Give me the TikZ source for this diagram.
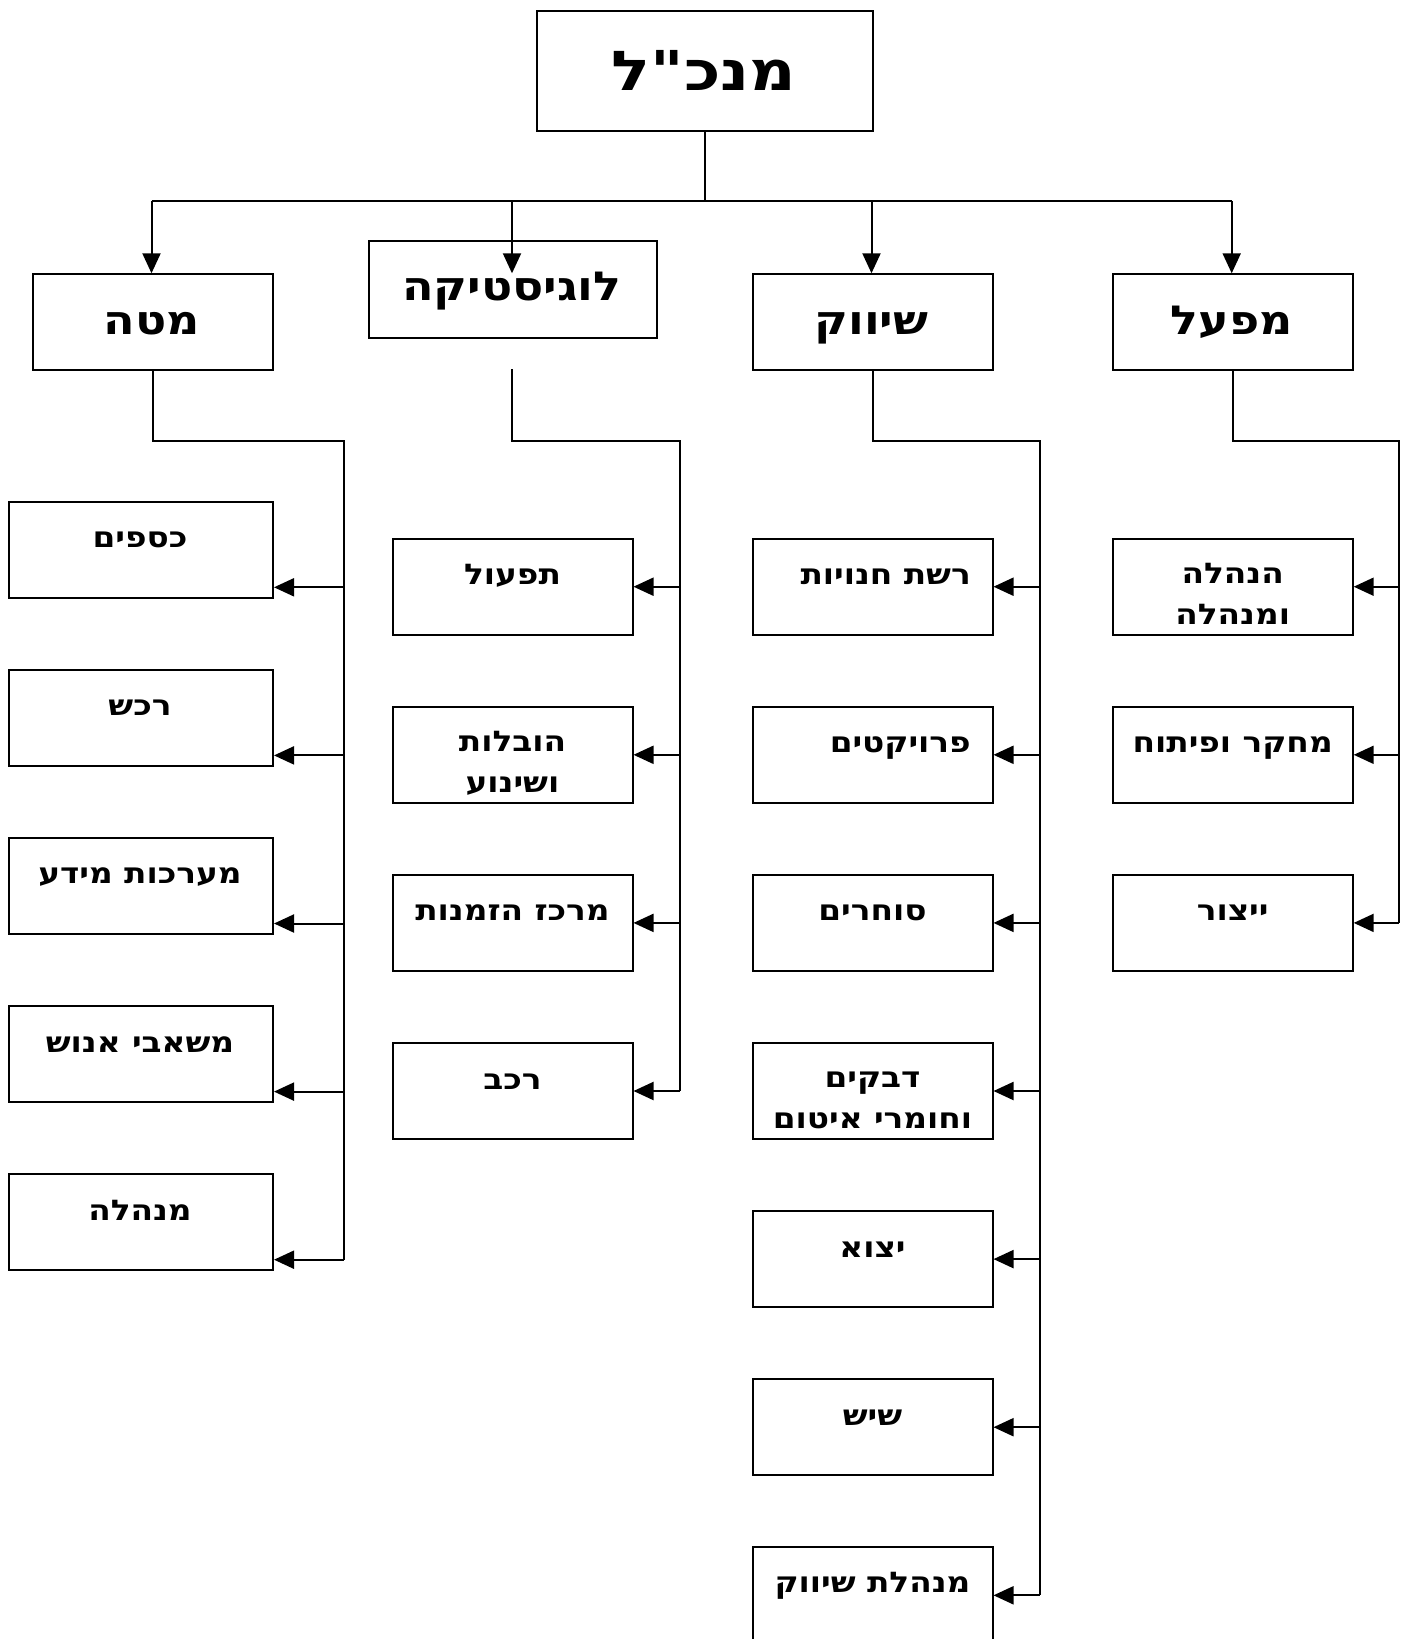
\documentclass[tikz,border=0pt]{standalone}
\usepackage{fontspec}
\usetikzlibrary{arrows.meta,calc}
\TeXXeTstate=1
\newfontfamily\heb[Script=Hebrew,FakeStretch=1.15]{DejaVu Sans}
\newfontfamily\hebtop[Script=Hebrew,FakeStretch=1.17]{DejaVu Sans}
\newcommand\heR[1]{\beginR #1\endR}
\begin{document}
\begin{tikzpicture}[x=1pt,y=-1pt,
  ln/.style={line width=2pt},
  arr/.style={line width=2pt,-{Triangle[length=20pt,width=18pt]}},
  box/.style={draw,line width=2pt,fill=white,anchor=north west,inner sep=0pt,
    minimum width=240pt,minimum height=96pt},
  wbox/.style={box,minimum width=264pt},
  sub/.style={anchor=base,inner sep=0pt,align=center,
    font=\heb\bfseries\fontsize{28.5}{41}\selectfont},
  head/.style={anchor=base,inner sep=0pt,font=\heb\bfseries\fontsize{40}{48}\selectfont},
  topt/.style={anchor=base,inner sep=0pt,font=\hebtop\bfseries\fontsize{55}{64}\selectfont}]
\useasboundingbox (0,0) rectangle (1412,1639);

% top
\node[box,minimum width=336pt,minimum height=120pt] (ceo) at (536,9.5) {};
\node[topt] (ceot) at (704,90) {\heR{מנכ"ל}};

\coordinate (bus) at (704,201);
\coordinate (mtip) at (151.5,273.3);
\coordinate (ltip) at (512,273.3);
\coordinate (stip) at (871.5,273.3);
\coordinate (ftip) at (1231.7,273.3);

% department boxes
\node[box] (mata) at (31.5,273.3) {};
\node[box,minimum width=288pt,minimum height=96.5pt] (log) at (368,240) {};
\node[box] (shiv) at (751.5,273.3) {};
\node[box] (mifal) at (1111.7,273.3) {};

\node[head] (matat) at (151.5,334) {\heR{מטה}};
\node[head] (logt) at (512,300.5) {\heR{לוגיסטיקה}};
\node[head] (shivt) at (871.5,334) {\heR{שיווק}};
\node[head] (mifalt) at (1231.7,334) {\heR{מפעל}};

\draw[ln] (ceo.south) -- (ceo.south |- bus);
\draw[ln] (mtip |- bus) -- (ftip |- bus);
\draw[arr] (mtip |- bus) -- (mtip);
\draw[arr] (ltip |- bus) -- (ltip);
\draw[arr] (stip |- bus) -- (stip);
\draw[arr] (ftip |- bus) -- (ftip);

% trunks
\coordinate (mtr) at (343.7,441);
\coordinate (ltr) at (679.5,441);
\coordinate (str) at (1039.6,441);
\coordinate (ftr) at (1398.8,441);
\coordinate (lstart) at (512,369.3);

% Mata children
\foreach \i/\n/\t in {0/m1/{\heR{כספים}},1/m2/{\heR{רכש}},2/m3/{\heR{מערכות מידע}},3/m4/{\heR{משאבי אנוש}},4/m5/{\heR{מנהלה}}}{
  \node[wbox] (\n) at (8,500.7+168.1*\i) {};
  \node[sub] (\n t) at (140,547.7+168.1*\i) {\t};
  \coordinate (\n a) at ($(\n.south east)+(0,-11.4)$);
  \draw[arr] (mtr |- \n a) -- (\n a);
}
\draw[ln] (mata.south) |- (mtr) -- (mtr |- m5a);

% Logistics children
\foreach \i/\n in {0/l1,1/l2,2/l3,3/l4}{
  \node[box] (\n) at (391.5,537.7+168.1*\i) {};
  \draw[arr] (ltr |- \n.east) -- (\n.east);
}
\node[sub] (l1t) at (l1.north |- 0,584.7) {\heR{תפעול}};
\node[sub] (l2t) at (l2.north |- 0,792.4) {\heR{הובלות}\\\heR{ושינוע}};
\node[sub] (l3t) at (l3.north |- 0,920.9) {\heR{מרכז הזמנות}};
\node[sub] (l4t) at (l4.north |- 0,1089) {\heR{רכב}};
\draw[ln] (lstart) |- (ltr) -- (ltr |- l4.east);

% Shivuk children
\foreach \i/\n in {0/s1,1/s2,2/s3,3/s4,4/s5,5/s6,6/s7}{
  \node[box] (\n) at (751.5,537.7+168.1*\i) {};
  \draw[arr] (str |- \n.east) -- (\n.east);
}
\node[sub,anchor=base east] (s1t) at (971,584.7) {\heR{רשת חנויות}};
\node[sub,anchor=base east] (s2t) at (971,752.8) {\heR{פרויקטים}};
\node[sub] (s3t) at (s3.north |- 0,920.9) {\heR{סוחרים}};
\node[sub] (s4t) at (s4.north |- 0,1128.3) {\heR{דבקים}\\\heR{וחומרי איטום}};
\node[sub] (s5t) at (s5.north |- 0,1257.1) {\heR{יצוא}};
\node[sub] (s6t) at (s6.north |- 0,1425.2) {\heR{שיש}};
\node[sub] (s7t) at (s7.north |- 0,1592) {\heR{מנהלת שיווק}};
\draw[ln] (shiv.south) |- (str) -- (str |- s7.east);

% Mifal children
\foreach \i/\n in {0/f1,1/f2,2/f3}{
  \node[box] (\n) at (1111.7,537.7+168.1*\i) {};
  \draw[arr] (ftr |- \n.east) -- (\n.east);
}
\node[sub] (f1t) at (f1.north |- 0,624.5) {\heR{הנהלה}\\\heR{ומנהלה}};
\node[sub] (f2t) at (f2.north |- 0,752.8) {\heR{מחקר ופיתוח}};
\node[sub] (f3t) at (f3.north |- 0,920.9) {\heR{ייצור}};
\draw[ln] (mifal.south) |- (ftr) -- (ftr |- f3.east);
\end{tikzpicture}
\end{document}
